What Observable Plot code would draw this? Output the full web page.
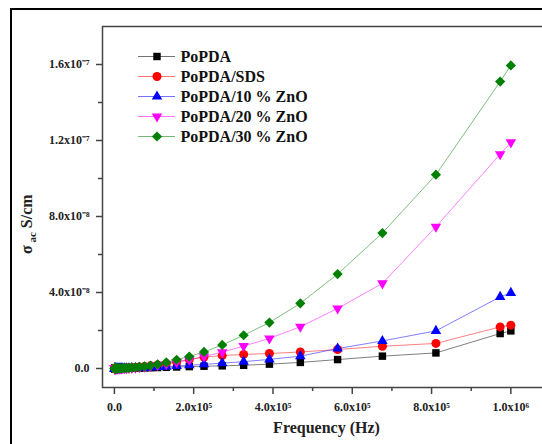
<!DOCTYPE html>
<html><head><meta charset="utf-8">
<script src="https://cdn.jsdelivr.net/npm/d3@7"></script>
<script src="https://cdn.jsdelivr.net/npm/@observablehq/plot@0.6"></script>
<style>
body{margin:0;background:#fff;}
#wrap{position:relative;width:542px;height:444px;overflow:hidden;background:#fff;}
#border{position:absolute;left:10px;top:8px;width:700px;height:700px;border-left:2px solid #000;border-top:2px solid #000;}
#chart{position:absolute;left:0;top:0;width:550px;}
#legend{position:absolute;left:138px;top:44px;}
</style></head><body>
<div id="wrap"><div id="border"></div><div id="chart"></div><div id="legend"></div></div>
<script>
const seriesNames = ["PoPDA", "PoPDA/SDS", "PoPDA/10 % ZnO", "PoPDA/20 % ZnO", "PoPDA/30 % ZnO"];
const frequency = [1000000, 973000, 811000, 676000, 563000, 469000, 391000, 326000, 272000, 226000,
  189000, 157000, 131000, 109000, 91000, 76000, 63000, 53000, 44000, 36600,
  30500, 25400, 21200, 17700, 14700, 12300, 10200, 8500, 7100, 5900,
  4900, 4100, 3400, 2800, 2400, 2000, 1600, 1400, 1100, 950, 790, 660, 550];
// sigma_ac values in units of 1e-8 S/cm
const popda = [1.98, 1.84, 0.82, 0.65, 0.47, 0.32, 0.23, 0.17, 0.14, 0.12,
  0.1, 0.08, 0.065, 0.05, 0.04, 0.03, 0.024, 0.019, 0.015, 0.012,
  0.009, 0.007, 0.006, 0.005, 0.004, 0.0035, 0.003, 0.0025, 0.002, 0.0017,
  0.0014, 0.0012, 0.001, 0.0009, 0.0008, 0.0007, 0.0006, 0.0005, 0.0004, 0.0004, 0.0003, 0.0003, 0.0002];
const popdaSDS = [2.28, 2.19, 1.32, 1.17, 1.0, 0.87, 0.79, 0.74, 0.68, 0.6,
  0.47, 0.35, 0.26, 0.19, 0.14, 0.1, 0.075, 0.055, 0.04, 0.03,
  0.022, 0.016, 0.012, 0.009, 0.007, 0.005, 0.004, 0.0035, 0.003, 0.0025,
  0.002, 0.0017, 0.0014, 0.0012, 0.001, 0.0009, 0.0008, 0.0007, 0.0006, 0.0005, 0.0004, 0.0003, 0.0003];
const popdaZnO10 = [3.98, 3.77, 1.98, 1.45, 1.05, 0.65, 0.48, 0.36, 0.28, 0.22,
  0.17, 0.13, 0.1, 0.08, 0.06, 0.045, 0.035, 0.027, 0.02, 0.015,
  0.012, 0.009, 0.007, 0.005, 0.004, 0.0035, 0.003, 0.0025, 0.002, 0.0017,
  0.0014, 0.0012, 0.001, 0.0009, 0.0008, 0.0007, 0.0006, 0.0005, 0.0004, 0.0004, 0.0003, 0.0003, 0.0002];
const popdaZnO20 = [11.9, 11.28, 7.46, 4.48, 3.16, 2.2, 1.58, 1.18, 0.86, 0.63,
  0.46, 0.33, 0.24, 0.17, 0.12, 0.09, 0.065, 0.048, 0.036, 0.027,
  0.02, 0.015, 0.011, 0.008, 0.006, 0.005, 0.004, 0.0035, 0.003, 0.0025,
  0.002, 0.0017, 0.0014, 0.0012, 0.001, 0.0009, 0.0008, 0.0007, 0.0006, 0.0005, 0.0004, 0.0003, 0.0003];
const popdaZnO30 = [15.95, 15.1, 10.2, 7.13, 4.97, 3.43, 2.42, 1.75, 1.24, 0.87,
  0.63, 0.46, 0.32, 0.22, 0.15, 0.11, 0.08, 0.06, 0.045, 0.035,
  0.027, 0.021, 0.016, 0.012, 0.009, 0.007, 0.006, 0.005, 0.004, 0.0035,
  0.003, 0.0025, 0.002, 0.0017, 0.0014, 0.0012, 0.001, 0.0009, 0.0008, 0.0007, 0.0006, 0.0005, 0.0004];

const xTickValues = [0, 200000, 400000, 600000, 800000, 1000000];
const xTickLabels = ["0.0", "2.0x10⁵", "4.0x10⁵", "6.0x10⁵", "8.0x10⁵", "1.0x10⁶"];
const xMinorTicks = [100000, 300000, 500000, 700000, 900000];
const yTickValues = [0, 4e-8, 8e-8, 1.2e-7, 1.6e-7];
const yTickLabels = ["0.0", "4.0x10⁻⁸", "8.0x10⁻⁸", "1.2x10⁻⁷", "1.6x10⁻⁷"];
const yMinorTicks = [2e-8, 6e-8, 1e-7, 1.4e-7];

const allSeries = [popda, popdaSDS, popdaZnO10, popdaZnO20, popdaZnO30];
const styles = [
  {color: "#000000", symbol: "square", r: 4.2, rotate: 0},
  {color: "#ff0000", symbol: "circle", r: 4.5, rotate: 0},
  {color: "#0000ff", symbol: "triangle", r: 3.9, rotate: 0},
  {color: "#ff00ff", symbol: "triangle", r: 3.9, rotate: 180},
  {color: "#008000", symbol: "diamond2", r: 4.6, rotate: 0}
];
const tables = allSeries.map((vals, s) => frequency.map((f, i) => ({name: seriesNames[s], f, v: vals[i] * 1e-8})));

const font = "'Liberation Serif', 'Times New Roman', serif";
const marks = [];
tables.forEach((rows, s) => {
  marks.push(Plot.line(rows, {x: "f", y: "v", stroke: styles[s].color, strokeWidth: 1, strokeOpacity: 0.5}));
});
tables.forEach((rows, s) => {
  const st = styles[s];
  marks.push(Plot.dot(rows, {x: "f", y: "v", symbol: st.symbol, r: st.r, fill: st.color, stroke: "none", rotate: st.rotate}));
});

const chart = Plot.plot({
  width: 550, height: 444,
  marginLeft: 102, marginTop: 26, marginRight: 0, marginBottom: 57,
  x: {domain: [-30000, 1100000]},
  y: {domain: [-1e-8, 1.8e-7]},
  style: {fontFamily: font, fontWeight: "bold", fontSize: "12px", color: "#222", background: "transparent", maxWidth: "none", overflow: "hidden"},
  marks: [
    ...marks,
    Plot.frame({stroke: "#444", strokeWidth: 1.5}),
    Plot.axisX({ticks: xTickValues, tickFormat: d => xTickLabels[xTickValues.indexOf(d)], tickSize: 7, tickPadding: 8, stroke: "#444", strokeWidth: 1.5, label: null, fill: "#222"}),
    Plot.axisX({ticks: xMinorTicks, tickFormat: () => "", tickSize: 4, stroke: "#444", strokeWidth: 1.5, label: null}),
    Plot.axisY({ticks: yTickValues, tickFormat: d => yTickLabels[yTickValues.indexOf(d)], tickSize: 6, tickPadding: 7, stroke: "#444", strokeWidth: 1.5, label: null, fill: "#222"}),
    Plot.axisY({ticks: yMinorTicks, tickFormat: () => "", tickSize: 4, stroke: "#444", strokeWidth: 1.5, label: null}),
    Plot.text(["Frequency (Hz)"], {frameAnchor: "bottom", dy: 40, lineAnchor: "middle", fontSize: 16, fill: "#222"}),
    Plot.text(["σ S/cm"], {frameAnchor: "left", dx: -76, dy: 47, rotate: -90, textAnchor: "start", fontSize: 16, fill: "#222"})
  ]
});
d3.select(chart).selectAll("text").filter(function() { return this.textContent === "σ S/cm"; })
  .each(function() {
    const t = d3.select(this);
    t.text(null);
    t.append("tspan").text("σ");
    t.append("tspan").attr("dy", "4").attr("font-size", "11px").text(" ac");
    t.append("tspan").attr("dy", "-4").text(" S/cm");
  });
document.getElementById("chart").append(chart);

const legend = Plot.plot({
  width: 260, height: 110,
  marginLeft: 0, marginRight: 223, marginTop: 10, marginBottom: 17,
  y: {type: "point", domain: seriesNames, axis: null, padding: 0},
  style: {fontFamily: font, fontWeight: "bold", fontSize: "16px", color: "#111", background: "transparent", maxWidth: "none", overflow: "visible"},
  marks: [
    Plot.ruleY(seriesNames, {y: d => d, stroke: (d) => styles[seriesNames.indexOf(d)].color, strokeWidth: 1, strokeOpacity: 0.55}),
    ...seriesNames.map((n, s) => Plot.dot([n], {y: d => d, frameAnchor: "middle", symbol: styles[s].symbol, r: styles[s].r, fill: styles[s].color, stroke: "none", rotate: styles[s].rotate})),
    Plot.text(seriesNames, {y: d => d, text: d => d, frameAnchor: "left", textAnchor: "start", dx: 42, lineAnchor: "middle", fill: "#111"})
  ]
});
document.getElementById("legend").append(legend);
</script>
</body></html>
